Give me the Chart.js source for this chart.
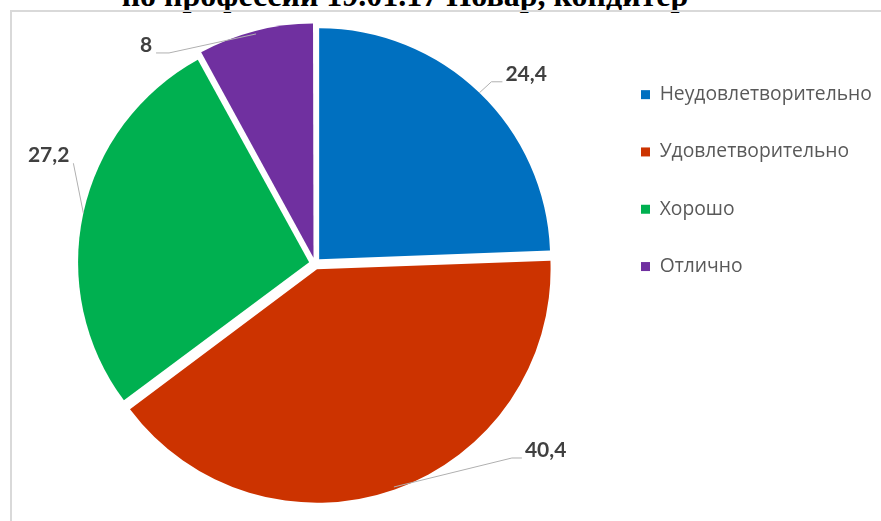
<!DOCTYPE html>
<html>
<head>
<meta charset="utf-8">
<script src="https://cdn.jsdelivr.net/npm/chart.js@4/dist/chart.umd.min.js"></script>
<style>
    body { margin: 0; background: #ffffff; overflow: hidden; }
    #wrap { position: relative; width: 881px; height: 521px; overflow: hidden; }
    #title {
        position: absolute; left: 0; top: -21px; width: 810px;
        text-align: center; white-space: nowrap;
        font-family: "Liberation Serif", "Times New Roman", serif;
        font-weight: bold; font-size: 32px; line-height: 32px; color: #000;
    }
    #frame {
        position: absolute; left: 10px; top: 10px; width: 1000px; height: 1000px;
        border-left: 2px solid #d9d9d9; border-top: 2px solid #d9d9d9;
    }
    #pieChart { position: absolute; left: 0; top: 0; }
</style>
</head>
<body>
<div id="wrap">
    <div id="title">по профессии 19.01.17 Повар, кондитер</div>
    <div id="frame"></div>
    <canvas id="pieChart" width="881" height="521"></canvas>
</div>
<script>
    // оценки, %
    var grade_labels = ['Неудовлетворительно', 'Удовлетворительно', 'Хорошо', 'Отлично'];
    var grade_values = [24.4, 40.4, 27.2, 8];
    var grade_colors = ['#0070c0', '#cc3300', '#00b050', '#7030a0'];

    // leader line: elbow offset from the slice edge + horizontal tail
    var leaders = [
        {dx: 12, dy: -11, tail: 11},
        {dx: 118, dy: -29, tail: 10},
        {dx: -10, dy: -50, tail: 0},
        {dx: -87, dy: 19, tail: -13}
    ];

    var outLabels = {
        id: 'outLabels',
        afterDatasetsDraw: function (chart) {
            var ctx = chart.ctx;
            var meta = chart.getDatasetMeta(0);
            ctx.save();
            ctx.font = 'bold 21px Lato, "Open Sans", sans-serif';
            ctx.textBaseline = 'alphabetic';
            meta.data.forEach(function (arc, i) {
                var mid = (arc.startAngle + arc.endAngle) / 2;
                var r = arc.outerRadius + arc.options.offset / 4;
                var x0 = arc.x + Math.cos(mid) * r;
                var y0 = arc.y + Math.sin(mid) * r;
                var l = leaders[i];
                var x1 = x0 + l.dx, y1 = y0 + l.dy;
                var x2 = x1 + l.tail;
                ctx.strokeStyle = '#b0b0b0';
                ctx.lineWidth = 1;
                ctx.beginPath();
                ctx.moveTo(x0, y0);
                ctx.lineTo(x1, y1);
                ctx.lineTo(x2, y1);
                ctx.stroke();
                ctx.fillStyle = '#404040';
                var txt = String(grade_values[i]).replace('.', ',');
                if (l.dx > 0) {
                    ctx.textAlign = 'left';
                    ctx.fillText(txt, x2 + 3, y1 - 1);
                } else {
                    ctx.textAlign = 'right';
                    ctx.fillText(txt, x2 - 4, y1 - 1);
                }
            });
            ctx.restore();
        }
    };

    function createChart() {
        var ctx = document.getElementById('pieChart').getContext('2d');
        new Chart(ctx, {
            type: 'pie',
            data: {
                labels: grade_labels,
                datasets: [{
                    data: grade_values,
                    backgroundColor: grade_colors,
                    borderWidth: 0,
                    offset: 24,
                    radius: 231,
                    clip: false
                }]
            },
            options: {
                responsive: false,
                animation: false,
                devicePixelRatio: 1,
                layout: { padding: { left: 27, right: 0, top: 47, bottom: 41 } },
                plugins: {
                    tooltip: { enabled: false },
                    legend: {
                        position: 'right',
                        align: 'start',
                        maxWidth: 278,
                        labels: {
                            boxWidth: 9,
                            boxHeight: 9,
                            padding: 38,
                            color: '#595959',
                            font: { family: '"Open Sans", sans-serif', size: 19.3 }
                        }
                    }
                }
            },
            plugins: [outLabels]
        });
    }
    createChart();
</script>
</body>
</html>
